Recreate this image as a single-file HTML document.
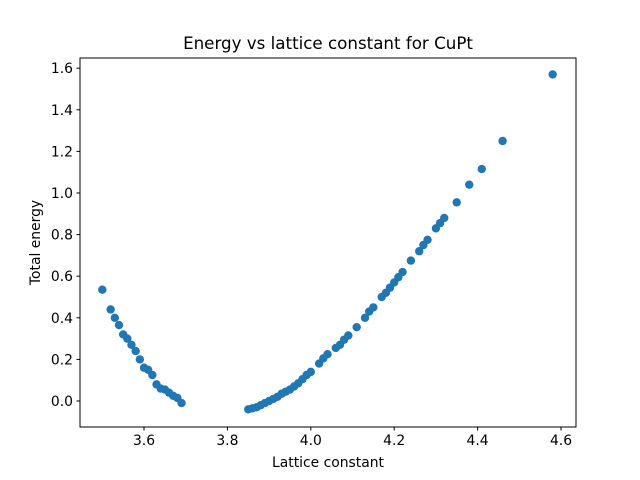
<!DOCTYPE html>
<html><head><meta charset="utf-8"><style>body{margin:0;background:#fff}svg{display:block;font-family:"DejaVu Sans","Liberation Sans",sans-serif}</style></head>
<body>
<svg id="chart" width="640" height="480" viewBox="0 0 640 480" xmlns="http://www.w3.org/2000/svg">
<rect width="640" height="480" fill="#fff"/>
<text x="328" y="49" text-anchor="middle" font-size="16.7">Energy vs lattice constant for CuPt</text>
<g id="ticks"></g>
<g id="points"></g>
<rect x="80" y="58" width="496" height="369" fill="none" stroke="#000" stroke-width="1"/>
<text x="328" y="467" text-anchor="middle" font-size="13.9">Lattice constant</text>
<text transform="translate(40,242.5) rotate(-90)" text-anchor="middle" font-size="13.9">Total energy</text>
</svg>
<script>
const latticeValues = [3.50,3.52,3.53,3.54,3.55,3.56,3.57,3.58,3.59,3.60,3.61,3.62,3.63,3.64,3.65,3.66,3.67,3.68,3.69,
3.85,3.86,3.87,3.88,3.89,3.90,3.91,3.92,3.93,3.94,3.95,3.96,3.97,3.98,3.99,4.00,4.02,4.03,4.04,4.06,4.07,4.08,4.09,4.11,4.13,4.14,4.15,4.17,4.18,4.19,4.20,4.21,4.22,4.24,4.26,4.27,4.28,4.30,4.31,4.32,4.35,4.38,4.41,4.46,4.58];
const energyValues = [0.535,0.44,0.40,0.365,0.32,0.30,0.27,0.24,0.20,0.16,0.15,0.125,0.08,0.06,0.055,0.04,0.025,0.015,-0.01,
-0.04,-0.035,-0.03,-0.02,-0.01,0.0,0.01,0.02,0.035,0.045,0.055,0.07,0.085,0.105,0.125,0.14,0.18,0.205,0.225,0.255,0.27,0.295,0.315,0.355,0.40,0.43,0.45,0.50,0.52,0.545,0.57,0.595,0.62,0.675,0.72,0.75,0.775,0.83,0.855,0.88,0.955,1.04,1.115,1.25,1.57];
const xTicks = [3.6,3.8,4.0,4.2,4.4,4.6];
const yTicks = [0.0,0.2,0.4,0.6,0.8,1.0,1.2,1.4,1.6];
const X0=80,X1=576,Y0=58,Y1=427;
const xMin=3.4465,xMax=4.6360,yMin=-0.125,yMax=1.649;
function xs(v){return X0+(v-xMin)/(xMax-xMin)*(X1-X0);}
function ys(v){return Y1-(v-yMin)/(yMax-yMin)*(Y1-Y0);}
const NS="http://www.w3.org/2000/svg";
const tg=document.getElementById('ticks'), pg=document.getElementById('points');
xTicks.forEach(t=>{
  const x=xs(t);
  const l=document.createElementNS(NS,'line');
  l.setAttribute('x1',x);l.setAttribute('x2',x);l.setAttribute('y1',Y1);l.setAttribute('y2',Y1+3.5);l.setAttribute('stroke','#000');
  
  
  tg.appendChild(l);
  const tx=document.createElementNS(NS,'text');
  tx.setAttribute('x',x);tx.setAttribute('y',Y1+18);tx.setAttribute('text-anchor','middle');tx.setAttribute('font-size','13.9');
  tx.textContent=t.toFixed(1);
  
  
  tg.appendChild(tx);
});
yTicks.forEach(t=>{
  const y=ys(t);
  const l=document.createElementNS(NS,'line');
  l.setAttribute('x1',X0-3.5);l.setAttribute('x2',X0);l.setAttribute('y1',y);l.setAttribute('y2',y);l.setAttribute('stroke','#000');
  
  
  tg.appendChild(l);
  const tx=document.createElementNS(NS,'text');
  tx.setAttribute('x',X0-7);tx.setAttribute('y',y+5);tx.setAttribute('text-anchor','end');tx.setAttribute('font-size','13.9');
  tx.textContent=t.toFixed(1);
  
  
  tg.appendChild(tx);
});
latticeValues.forEach((v,i)=>{
  const c=document.createElementNS(NS,'circle');
  c.setAttribute('cx',xs(v));c.setAttribute('cy',ys(energyValues[i]));c.setAttribute('r','4.2');c.setAttribute('fill','#1f77b4');
  
  
  pg.appendChild(c);
});
</script>
</body></html>
